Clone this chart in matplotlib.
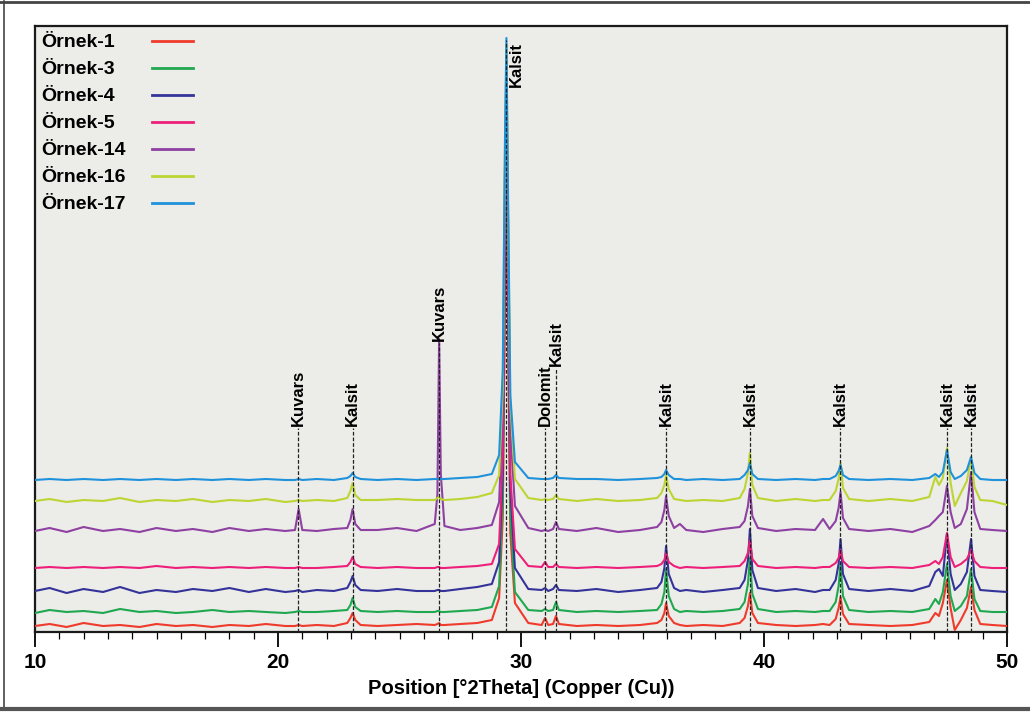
"""
XRD desenleri (Örnek-1 ... Örnek-17), kaydırılmış çizgiler halinde.
Çıktı: out.png
"""

import matplotlib.pyplot as plt
from matplotlib.lines import Line2D
from matplotlib.ticker import MultipleLocator

plt.rcParams["font.family"] = ["Liberation Sans", "DejaVu Sans"]

# ---- ortak 2Theta ekseni (pik çevresinde sık, arka planda seyrek) ----
two_theta = [
    10.0, 10.6, 11.3, 12.0, 12.8, 13.5, 14.3, 15.0, 15.8, 16.5, 17.3, 18.0, 18.8, 19.5, 20.3,
    20.7, 20.85, 21.0,
    21.6, 22.3,
    22.85, 22.98, 23.07, 23.18, 23.4,
    24.1, 24.9, 25.7,
    26.45, 26.56, 26.63, 26.70, 26.85,
    27.5, 28.2, 28.8,
    29.1, 29.25, 29.34, 29.40, 29.46, 29.56, 29.75,
    30.3,
    30.85, 30.99, 31.12,
    31.32, 31.44, 31.56,
    32.3, 33.1, 34.0, 34.9, 35.6,
    35.78, 35.9, 35.97, 36.08, 36.3,
    36.54, 36.8, 37.5, 38.3, 39.0,
    39.2, 39.34, 39.42, 39.52, 39.75,
    40.5, 41.3, 42.1, 42.43, 42.7,
    42.95, 43.07, 43.15, 43.25, 43.5,
    44.3, 45.2, 46.1, 46.8,
    47.05, 47.2, 47.36, 47.53, 47.68, 47.85,
    48.1, 48.35, 48.52, 48.66, 48.9,
    49.4, 50.0,
]

# ---- şiddetler (her örnek kendi taban çizgisine göre, göreli birim) ----
ornek_1 = [
    2, 4, 1, 5, 2, 3, 1, 4, 2, 3, 1, 3, 2, 4, 2,
    2, 3, 2,
    3, 2,
    5, 10, 15, 8, 3,
    2, 3, 4,
    3, 4, 5, 3, 3,
    4, 5, 8,
    30, 110, 330, 478, 300, 95, 25,
    5,
    3, 10, 3,
    4, 12, 4,
    2, 3, 2, 3, 5,
    8, 15, 25, 12, 5,
    3, 2, 3, 2, 5,
    10, 22, 35, 15, 5,
    3, 2, 3, 4, 3,
    9, 20, 31, 14, 4,
    3, 2, 3, 6,
    15, 12, 25, 48, 20, -2,
    8, 20, 41, 18, 4,
    3, 2,
]
ornek_3 = [
    1, 4, 2, 3, 1, 5, 2, 3, 1, 2, 4, 2, 3, 2, 1,
    2, 3, 2,
    2, 3,
    4, 9, 16, 7, 3,
    2, 3, 2,
    2, 3, 3, 2, 2,
    3, 4, 7,
    28, 115, 340, 493, 310, 100, 22,
    4,
    3, 5, 3,
    4, 12, 4,
    2, 3, 2, 3, 4,
    10, 22, 45, 18, 5,
    2, 3, 2, 3, 5,
    12, 30, 56, 20, 5,
    2, 3, 2, 3, 3,
    12, 28, 50, 18, 4,
    2, 3, 2, 5,
    15, 10, 22, 50, 18, 3,
    8, 18, 45, 15, 3,
    2, 2,
]
ornek_4 = [
    3, 6, 1, 5, 2, 7, 1, 4, 2, 5, 3, 6, 2, 5, 2,
    3, 4, 2,
    4, 3,
    6, 12, 18, 9, 4,
    3, 5, 3,
    3, 4, 4, 3, 3,
    5, 7, 10,
    32, 120, 350, 495, 320, 105, 26,
    5,
    4, 6, 3,
    5, 9, 4,
    3, 5, 2, 4, 6,
    12, 26, 48, 20, 6,
    3, 4, 2, 4, 6,
    14, 34, 65, 24, 6,
    3, 5, 2, 4, 4,
    14, 30, 55, 20, 5,
    3, 5, 3, 8,
    22, 25, 18, 60, 20, 4,
    10, 22, 55, 18, 4,
    3, 2,
]
ornek_5 = [
    1, 2, 1, 2, 1, 2, 1, 3, 1, 2, 1, 2, 1, 2, 1,
    1, 2, 1,
    1, 2,
    3, 7, 12, 5, 2,
    1, 2, 1,
    1, 2, 2, 1, 1,
    2, 3, 5,
    25, 115, 340, 489, 310, 95, 20,
    3,
    2, 7, 2,
    2, 5, 2,
    1, 2, 1, 2, 3,
    5, 9, 16, 7, 3,
    1, 2, 1, 2, 3,
    8, 16, 29, 10, 3,
    1, 2, 1, 2, 2,
    6, 11, 19, 8, 2,
    1, 2, 1, 4,
    8, 5, 12, 36, 12, 2,
    5, 10, 19, 8, 2,
    1, 1,
]
ornek_14 = [
    3, 6, 2, 7, 3, 5, 2, 6, 3, 5, 2, 6, 3, 5, 3,
    4, 25, 4,
    3, 5,
    6, 14, 25, 10, 4,
    4, 6, 3,
    10, 40, 195, 60, 8,
    4, 6, 9,
    32, 125, 360, 475, 330, 105, 28,
    6,
    3, 4, 3,
    5, 12, 5,
    3, 6, 2, 4, 7,
    12, 24, 38, 18, 6,
    10, 4, 2, 5, 7,
    13, 28, 45, 18, 6,
    3, 5, 4, 15, 5,
    13, 26, 42, 16, 5,
    3, 5, 2, 8,
    14, 18, 22, 48, 22, 6,
    10, 25, 62, 22, 5,
    4, 3,
]
ornek_16 = [
    2, 4, 1, 3, 2, 5, 1, 3, 2, 4, 1, 3, 2, 4, 1,
    2, 3, 2,
    3, 2,
    5, 12, 20, 8, 3,
    3, 4, 3,
    3, 5, 6, 4, 3,
    4, 6, 10,
    28, 115, 350, 458, 310, 100, 24,
    5,
    3, 4, 3,
    4, 8, 4,
    2, 4, 2, 3, 5,
    10, 18, 28, 14, 4,
    3, 2, 3, 2, 5,
    14, 30, 50, 18, 5,
    2, 4, 2, 3, 3,
    12, 24, 40, 15, 4,
    2, 4, 2, 6,
    26, 18, 25, 55, 20, -3,
    10, 22, 45, 16, 3,
    2, -2,
]
ornek_17 = [
    0, 1, 0, 1, 0, 1, 0, 1, 0, 1, 0, 1, 0, 1, 0,
    0, 1, 0,
    1, 0,
    2, 4, 7, 3, 1,
    0, 1, 0,
    1, 1, 1, 1, 1,
    2, 3, 6,
    25, 110, 340, 442, 300, 85, 18,
    2,
    1, 1, 1,
    2, 5, 2,
    1, 1, 0, 1, 2,
    3, 6, 10, 5, 1,
    1, 0, 1, 0, 1,
    5, 10, 17, 6, 1,
    0, 1, 0, 1, 1,
    4, 9, 15, 5, 1,
    0, 1, 0, 2,
    6, 3, 8, 30, 8, 1,
    4, 10, 23, 7, 1,
    0, 0,
]

sample_names = ["Örnek-1", "Örnek-3", "Örnek-4", "Örnek-5", "Örnek-14", "Örnek-16", "Örnek-17"]
sample_data = [ornek_1, ornek_3, ornek_4, ornek_5, ornek_14, ornek_16, ornek_17]

# ---- pik etiketleri ----
peak_pos = [20.82, 23.08, 26.63, 29.38, 30.99, 31.44, 35.97, 39.42, 43.13, 47.53, 48.52]
peak_names = ["Kuvars", "Kalsit", "Kuvars", "Kalsit", "Dolomit", "Kalsit",
              "Kalsit", "Kalsit", "Kalsit", "Kalsit", "Kalsit"]

# ---- stil ----
colors = ["#ef3b2c", "#1fa84f", "#34339a", "#ee1f7a", "#8e41a2", "#bdd532", "#1f92dc"]
offsets = [4, 18, 38, 63, 98, 129, 152]
label_tops = [204, 204, 289, 592, 204, 264, 204, 204, 204, 204, 204]
BG = "#ecece8"

fig = plt.figure(figsize=(10.3, 7.13), dpi=100)
ax = fig.add_axes([35 / 1030, 81 / 713, 972 / 1030, 606 / 713])
ax.set_facecolor(BG)

for vals, off, c in zip(sample_data, offsets, colors):
    ax.plot(two_theta, [v + off for v in vals], color=c, lw=1.5, zorder=3)

# dikey kesikli çizgiler ve etiketler
for x, name, top in zip(peak_pos, peak_names, label_tops):
    ax.vlines(x, 0, top, colors="#222222", linestyles=(0, (3, 1.5)), lw=0.9, zorder=4)
    if top > 500:
        ax.text(x + 0.12, top - 2, name, rotation=90, ha="left", va="top",
                fontsize=12, fontweight="bold", zorder=5)
    else:
        ax.text(x, top + 2, name, rotation=90, ha="center", va="bottom",
                fontsize=12, fontweight="bold", zorder=5)

# lejant (metin solda, çizgi sağda)
for i, (name, c) in enumerate(zip(sample_names, colors)):
    yy = 0.973 - i * 0.0445
    ax.text(0.006, yy, name, transform=ax.transAxes, ha="left", va="center",
            fontsize=14, fontweight="bold", zorder=6)
    ax.add_line(Line2D([0.12, 0.163], [yy + 0.002, yy + 0.002], transform=ax.transAxes,
                       color=c, lw=2, zorder=6))

ax.set_xlim(10, 50)
ax.set_ylim(0, 606)
ax.set_yticks([])
ax.xaxis.set_major_locator(MultipleLocator(10))
ax.xaxis.set_minor_locator(MultipleLocator(1))
ax.tick_params(axis="x", which="major", direction="out", length=11, width=1.3,
               labelsize=15, pad=4)
ax.tick_params(axis="x", which="minor", direction="out", length=5, width=0.9)
for lab in ax.get_xticklabels():
    lab.set_fontweight("bold")
for s in ax.spines.values():
    s.set_linewidth(1.6)
    s.set_color("#1a1a1a")
ax.set_xlabel("Position [°2Theta] (Copper (Cu))", fontsize=14.5, fontweight="bold", labelpad=5)

# dış çerçeve
fig.add_artist(Line2D([4 / 1030, 4 / 1030], [4 / 713, 712 / 713], transform=fig.transFigure,
                      color="#444444", lw=1.2))
fig.add_artist(Line2D([0, 1], [711.5 / 713, 711.5 / 713], transform=fig.transFigure,
                      color="#444444", lw=2))
fig.add_artist(Line2D([0, 1], [4 / 713, 4 / 713], transform=fig.transFigure,
                      color="#555555", lw=3))

fig.savefig("out.png", dpi=100)
